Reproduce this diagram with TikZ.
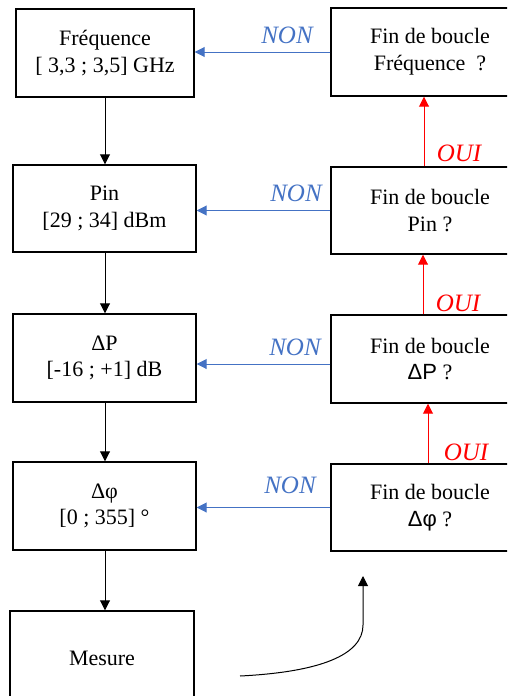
\documentclass[tikz,border=0pt]{standalone}
\usepackage{fontspec}
\setmainfont{Liberation Serif}
\newfontfamily\sansf{Liberation Sans}
\usetikzlibrary{arrows.meta,calc}
\definecolor{nonblue}{HTML}{4472C4}
\definecolor{ouired}{HTML}{FF0000}
\tikzset{
  box/.style={draw=black, line width=1.1pt, align=center, inner sep=0pt,
    font=\fontsize{16.5}{20}\selectfont},
  downarrow/.style={draw=black, line width=0.75pt, -{Triangle[length=7.5pt,width=7.5pt]}},
  nonarrow/.style={draw=nonblue, line width=0.75pt, -{Triangle[length=7.5pt,width=7.5pt]}},
  ouiarrow/.style={draw=ouired, line width=0.75pt, -{Triangle[length=7.5pt,width=7.5pt]}},
  nonlabel/.style={text=nonblue, font=\fontsize{18.75}{20}\selectfont\itshape, inner sep=0pt},
  ouilabel/.style={text=ouired, font=\fontsize{18.75}{20}\selectfont\itshape, inner sep=0pt},
}
\begin{document}
\begin{tikzpicture}[x=0.75pt,y=-0.75pt]
\useasboundingbox (0,0) rectangle (507,696);
\clip (0,0) rectangle (507,696);
% left column
\node[box, minimum width=178*0.75pt, minimum height=88*0.75pt] (F) at (105,53) {Fréquence\\{[} 3,3 ; 3,5] GHz};
\node[box, minimum width=183*0.75pt, minimum height=87*0.75pt] (P) at (104.5,208.5) {Pin\\{[}29 ; 34] dBm};
\node[box, minimum width=183*0.75pt, minimum height=88*0.75pt] (D) at (104.5,358) {ΔP\\{[}-16 ; +1] dB};
\node[box, minimum width=183*0.75pt, minimum height=88*0.75pt] (Q) at (104.5,506) {Δφ\\{[}0 ; 355] °};
\node[box, minimum width=184*0.75pt, minimum height=94*0.75pt] (M) at (102,658) {Mesure};
% right column
\node[box, minimum width=198*0.75pt, minimum height=88*0.75pt] (R1) at (430,52) {Fin de boucle\\Fréquence~~?};
\node[box, minimum width=198*0.75pt, minimum height=87*0.75pt] (R2) at (430,210.5) {Fin de boucle\\Pin ?};
\node[box, minimum width=198*0.75pt, minimum height=88*0.75pt] (R3) at (430,359) {Fin de boucle\\{\sansf ΔP} ?};
\node[box, minimum width=198*0.75pt, minimum height=87*0.75pt] (R4) at (430,507.5) {Fin de boucle\\{\sansf Δφ} ?};
% down arrows (vertical)
\draw[downarrow] (F.south) -- (F.south |- P.north);
\draw[downarrow] (F.south |- P.south) -- (F.south |- D.north);
\draw[downarrow] (F.south |- D.south) -- (F.south |- Q.north);
\draw[downarrow] (F.south |- Q.south) -- (F.south |- M.north);
% NON arrows
\draw[nonarrow] (R1.west) -- (R1.west -| F.east);
\draw[nonarrow] (R2.west) -- (R2.west -| P.east);
\draw[nonarrow] ([yshift=-3.75pt]R3.west) -- ([yshift=-3.75pt]R3.west -| D.east);
\draw[nonarrow] (R4.west) -- (R4.west -| Q.east);
% OUI arrows
\draw[ouiarrow] ([xshift=-4.5pt]R2.north) -- ([xshift=-4.5pt]R1.south);
\draw[ouiarrow] ([xshift=-5.25pt]R3.north) -- ([xshift=-5.25pt]R2.south);
\draw[ouiarrow] ([xshift=-1.5pt]R4.north) -- ([xshift=-1.5pt]R3.south);
% labels
\node[nonlabel] (n1) at (287,35) {NON};
\node[nonlabel] (n2) at (296,193) {NON};
\node[nonlabel] (n3) at (295,347) {NON};
\node[nonlabel] (n4) at (290,485) {NON};
\node[ouilabel] (o1) at (459,153) {OUI};
\node[ouilabel] (o2) at (458,303) {OUI};
\node[ouilabel] (o3) at (466,452) {OUI};
% curved arrow
\coordinate (cs) at (240,676);
\coordinate (cm) at (363,625);
\coordinate (ce) at (363,576);
\draw[downarrow] (cs) .. controls (320,672) and (363,655) .. (cm) -- (ce);
\end{tikzpicture}
\end{document}
